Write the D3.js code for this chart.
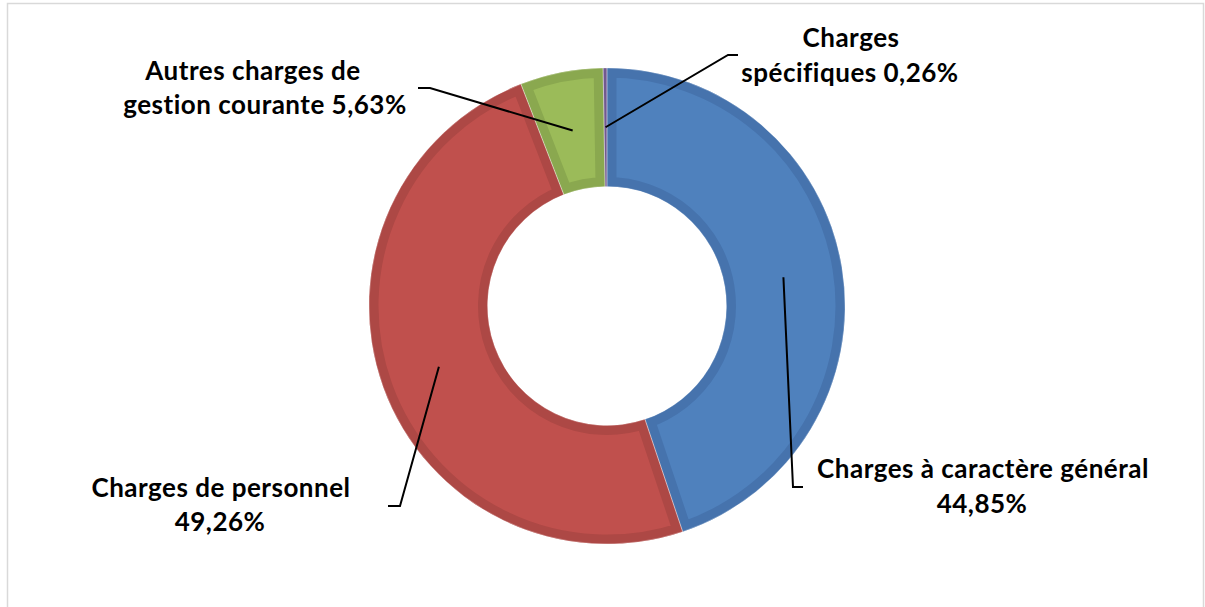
<!DOCTYPE html>
<html>
<head>
<meta charset="utf-8">
<script src="https://cdn.jsdelivr.net/npm/d3@7"></script>
<style>
	html, body { margin: 0; padding: 0; background: #fff; }
	svg { display: block; }
	text { font-family: Lato, "Open Sans", sans-serif; font-weight: bold; fill: #000; }
</style>
</head>
<body>
<svg id="chart" width="1205" height="607"></svg>
<script>
'use strict';

// chart data
var categories = ['Charges à caractère général', 'Charges de personnel', 'Autres charges de gestion courante', 'Charges spécifiques'];
var values     = [44.85, 49.26, 5.63, 0.26];
var fills      = ['#4f81bd', '#c0504d', '#9bbb59', '#8064a2'];
var borders    = ['#4673ad', '#ad4845', '#8aa84f', '#71598f'];
var labelLines = [
	['Charges à caractère général', '44,85%'],
	['Charges de personnel', '49,26%'],
	['Autres charges de', 'gestion courante 5,63%'],
	['Charges', 'spécifiques 0,26%']
];

// where Excel put each label and its leader elbow
var labelPos = [
	{ lines: [[983, 478], [982, 513]], elbow: [793, 487], end: [803, 487] },
	{ lines: [[221, 497], [220, 531]], elbow: [400, 506], end: [388, 506] },
	{ lines: [[253, 80], [265, 114]], elbow: [430, 88], end: [418, 88] },
	{ lines: [[851, 47], [850, 82]], elbow: [728, 55], end: [738, 55] }
];

var cx = 607, cy = 306;
var outerR = 238, innerR = 119.5;

var svg = d3.select('#chart');

svg.append('rect')
	.attr('x', 7.5).attr('y', 3.5)
	.attr('width', 1196).attr('height', 610)
	.attr('fill', '#fff')
	.attr('stroke', '#d9d9d9')
	.attr('stroke-width', 1.5);

var pie = d3.pie().sort(null).value(function (d) { return d; });
var arcs = pie(values);

var arc = d3.arc().innerRadius(innerR).outerRadius(outerR);
var mid = d3.arc().innerRadius((innerR + outerR) / 2).outerRadius((innerR + outerR) / 2);

var g = svg.append('g').attr('transform', 'translate(' + cx + ',' + cy + ')');
var defs = svg.append('defs');

defs.selectAll('clipPath').data(arcs).enter().append('clipPath')
	.attr('id', function (d, i) { return 'slice' + i; })
	.append('path')
	.attr('d', arc);

g.selectAll('path.slice').data(arcs).enter().append('path')
	.attr('class', 'slice')
	.attr('d', arc)
	.attr('fill', function (d, i) { return fills[i]; })
	.attr('stroke', function (d, i) { return borders[i]; })
	.attr('stroke-width', 19)
	.attr('clip-path', function (d, i) { return 'url(#slice' + i + ')'; });

// thin light seam between slices
g.selectAll('path.seam').data(arcs).enter().append('path')
	.attr('class', 'seam')
	.attr('d', arc)
	.attr('fill', 'none')
	.attr('stroke', 'rgba(255,255,255,0.5)')
	.attr('stroke-width', 0.6);

// leader lines
svg.selectAll('polyline.leader').data(arcs).enter().append('polyline')
	.attr('class', 'leader')
	.attr('fill', 'none')
	.attr('stroke', '#000')
	.attr('stroke-width', 2)
	.attr('points', function (d, i) {
		var c = mid.centroid(d);
		var p = labelPos[i];
		return [[cx + c[0], cy + c[1]], p.elbow, p.end].map(function (q) { return q.join(','); }).join(' ');
	});

// labels
var labels = svg.selectAll('g.label').data(categories).enter().append('g')
	.attr('class', 'label');

labels.each(function (d, i) {
	var lg = d3.select(this);
	labelLines[i].forEach(function (t, j) {
		lg.append('text')
			.attr('x', labelPos[i].lines[j][0])
			.attr('y', labelPos[i].lines[j][1])
			.attr('text-anchor', 'middle')
			.attr('font-size', 26)
			.attr('letter-spacing', 0.5)
			.text(t);
	});
});
</script>
</body>
</html>
